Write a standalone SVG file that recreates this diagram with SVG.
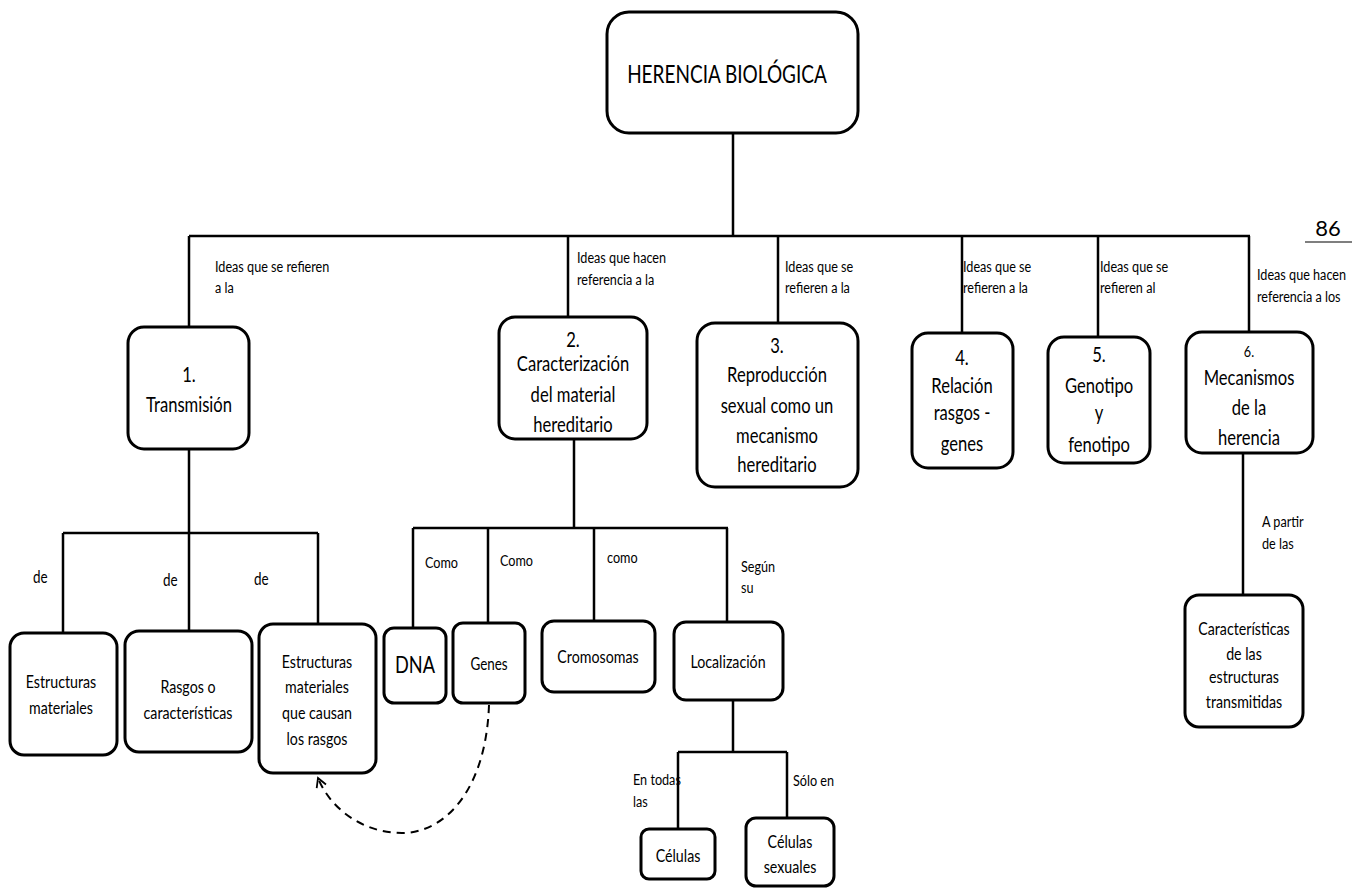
<svg xmlns="http://www.w3.org/2000/svg" width="1361" height="888" viewBox="0 0 1361 888">
  <style>
    .box { fill: #fff; stroke: #000; stroke-width: 3; }
    .ln { fill: none; stroke: #000; stroke-width: 2.5; }
    .dash { fill: none; stroke: #000; stroke-width: 2; stroke-dasharray: 8 6; }
    text { font-family: Lato, "Open Sans", "Liberation Sans", sans-serif; fill: #000; }
    .c { text-anchor: middle; transform-box: fill-box; transform-origin: center; transform: scaleX(0.79); }
    .l { transform-box: fill-box; transform-origin: left center; transform: scaleX(0.79); }
    .big { font-size: 21px; }
    .mid { font-size: 18px; }
    .sm { font-size: 16px; }
  </style>
  <defs>
    <marker id="open" viewBox="0 0 12 12" refX="10" refY="6" markerWidth="12" markerHeight="12" markerUnits="userSpaceOnUse" orient="auto">
      <path d="M1,1 L10,6 L1,11" fill="none" stroke="#000" stroke-width="1.8"/>
    </marker>
  </defs>
  <rect width="1361" height="888" fill="#fff"/>

  <!-- connectors -->
  <g id="connectors">
    <path class="ln" d="M733,133 V236 M189,236 H1250"/>
    <path class="ln" d="M189,236 V328 M568,236 V318 M778,236 V323 M962,236 V333 M1098,236 V337 M1249,236 V332"/>
    <!-- transmision branch -->
    <path class="ln" d="M189,449 V533 M63,533 H318 M63,533 V633 M189,533 V631 M318,533 V624"/>
    <!-- material hereditario branch -->
    <path class="ln" d="M574,439 V528 M413,528 H728 M413,528 V628 M488,528 V623 M594,528 V621 M727,528 V622"/>
    <!-- localizacion branch -->
    <path class="ln" d="M733,700 V752 M678,752 H787 M678,752 V829 M787,752 V818"/>
    <!-- mecanismos branch -->
    <path class="ln" d="M1243,453 V595"/>
    <!-- genes to estructuras -->
    <path class="dash" d="M489,705 C486,790 445,833 402,833 C362,833 330,808 318,778" marker-end="url(#open)"/>
  </g>

  <!-- connector labels -->
  <g id="labels" class="sm">
    <text class="l" x="215" y="272">Ideas que se refieren</text>
    <text class="l" x="215" y="293">a la</text>
    <text class="l" x="577" y="263">Ideas que hacen</text>
    <text class="l" x="577" y="285">referencia a la</text>
    <text class="l" x="785" y="272">Ideas que se</text>
    <text class="l" x="785" y="293">refieren a la</text>
    <text class="l" x="963" y="272">Ideas que se</text>
    <text class="l" x="963" y="293">refieren a la</text>
    <text class="l" x="1100" y="272">Ideas que se</text>
    <text class="l" x="1100" y="293">refieren al</text>
    <text class="l" x="1257" y="280">Ideas que hacen</text>
    <text class="l" x="1257" y="302">referencia a los</text>
    <text class="l" x="33" y="583" style="font-size:17px">de</text>
    <text class="l" x="163" y="586" style="font-size:17px">de</text>
    <text class="l" x="254" y="585" style="font-size:17px">de</text>
    <text class="l" x="425" y="568">Como</text>
    <text class="l" x="500" y="566">Como</text>
    <text class="l" x="607" y="563">como</text>
    <text class="l" x="741" y="572">Según</text>
    <text class="l" x="741" y="593">su</text>
    <text class="l" x="633" y="785">En todas</text>
    <text class="l" x="633" y="807">las</text>
    <text class="l" x="793" y="786">Sólo en</text>
    <text class="l" x="1262" y="527">A partir</text>
    <text class="l" x="1262" y="549">de las</text>
  </g>

  <g id="page-number">
    <text x="1328" y="236" text-anchor="middle" style="font-size:22px">86</text>
    <path d="M1305,242 H1352" stroke="#000" stroke-width="1.2"/>
  </g>

  <!-- root -->
  <g id="herencia">
    <rect class="box" x="607" y="12" width="251" height="121" rx="22"/>
    <text class="c" x="727" y="83" style="font-size:25px; transform: scaleX(0.76)">HERENCIA BIOLÓGICA</text>
  </g>

  <!-- main concepts -->
  <g id="n1" class="big">
    <rect class="box" x="128" y="327" width="121" height="122" rx="16"/>
    <text class="c" x="189" y="382">1.</text>
    <text class="c" x="189" y="412">Transmisión</text>
  </g>
  <g id="n2" class="big">
    <rect class="box" x="499" y="317" width="148" height="122" rx="16"/>
    <text class="c" x="573" y="347">2.</text>
    <text class="c" x="573" y="371">Caracterización</text>
    <text class="c" x="573" y="402">del material</text>
    <text class="c" x="573" y="432">hereditario</text>
  </g>
  <g id="n3" class="big">
    <rect class="box" x="697" y="323" width="161" height="164" rx="18"/>
    <text class="c" x="777" y="353">3.</text>
    <text class="c" x="777" y="382">Reproducción</text>
    <text class="c" x="777" y="413">sexual como un</text>
    <text class="c" x="777" y="443">mecanismo</text>
    <text class="c" x="777" y="472">hereditario</text>
  </g>
  <g id="n4" class="big">
    <rect class="box" x="912" y="333" width="101" height="135" rx="16"/>
    <text class="c" x="962" y="365">4.</text>
    <text class="c" x="962" y="393">Relación</text>
    <text class="c" x="962" y="420">rasgos -</text>
    <text class="c" x="962" y="451">genes</text>
  </g>
  <g id="n5" class="big">
    <rect class="box" x="1048" y="337" width="102" height="126" rx="16"/>
    <text class="c" x="1099" y="362">5.</text>
    <text class="c" x="1099" y="393">Genotipo</text>
    <text class="c" x="1099" y="420">y</text>
    <text class="c" x="1099" y="452">fenotipo</text>
  </g>
  <g id="n6" class="big">
    <rect class="box" x="1186" y="332" width="127" height="121" rx="16"/>
    <text class="c" x="1249" y="357" style="font-size:16px">6.</text>
    <text class="c" x="1249" y="385">Mecanismos</text>
    <text class="c" x="1249" y="415">de la</text>
    <text class="c" x="1249" y="445">herencia</text>
  </g>

  <!-- transmision details -->
  <g id="estructuras" class="mid">
    <rect class="box" x="10" y="633" width="107" height="122" rx="14"/>
    <text class="c" x="61" y="688">Estructuras</text>
    <text class="c" x="61" y="714">materiales</text>
  </g>
  <g id="rasgos" class="mid">
    <rect class="box" x="125" y="631" width="127" height="121" rx="14"/>
    <text class="c" x="188" y="693">Rasgos o</text>
    <text class="c" x="188" y="719">características</text>
  </g>
  <g id="estructuras-causan" class="mid">
    <rect class="box" x="259" y="624" width="117" height="149" rx="14"/>
    <text class="c" x="317" y="668">Estructuras</text>
    <text class="c" x="317" y="693">materiales</text>
    <text class="c" x="317" y="719">que causan</text>
    <text class="c" x="317" y="745">los rasgos</text>
  </g>

  <!-- material hereditario details -->
  <g id="dna">
    <rect class="box" x="384" y="628" width="62" height="75" rx="10"/>
    <text class="c" x="415" y="673" style="font-size:23px">DNA</text>
  </g>
  <g id="genes">
    <rect class="box" x="453" y="623" width="72" height="80" rx="10"/>
    <text class="c" x="489" y="670" style="font-size:17px">Genes</text>
  </g>
  <g id="cromosomas" class="mid">
    <rect class="box" x="542" y="621" width="113" height="71" rx="12"/>
    <text class="c" x="598" y="663">Cromosomas</text>
  </g>
  <g id="localizacion" class="mid">
    <rect class="box" x="674" y="622" width="109" height="78" rx="12"/>
    <text class="c" x="728" y="668">Localización</text>
  </g>
  <g id="celulas" class="mid">
    <rect class="box" x="641" y="829" width="74" height="50" rx="8"/>
    <text class="c" x="678" y="862">Células</text>
  </g>
  <g id="celulas-sexuales" class="mid">
    <rect class="box" x="746" y="818" width="88" height="68" rx="10"/>
    <text class="c" x="790" y="848">Células</text>
    <text class="c" x="790" y="873">sexuales</text>
  </g>

  <!-- mecanismos details -->
  <g id="caracteristicas" class="mid">
    <rect class="box" x="1185" y="595" width="118" height="132" rx="14"/>
    <text class="c" x="1244" y="635">Características</text>
    <text class="c" x="1244" y="660">de las</text>
    <text class="c" x="1244" y="683">estructuras</text>
    <text class="c" x="1244" y="708">transmitidas</text>
  </g>
</svg>
